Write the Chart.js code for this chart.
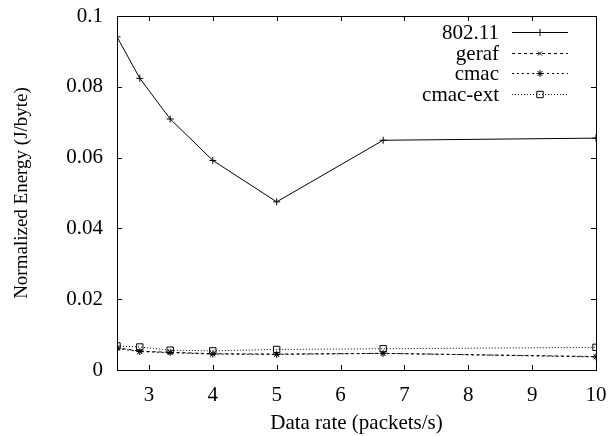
<!DOCTYPE html>
<html>
<head>
<meta charset="utf-8">
<script src="https://cdn.jsdelivr.net/npm/chart.js@4.4.1/dist/chart.umd.min.js"></script>
<style>
  html, body { margin: 0; padding: 0; background: #fff; }
  #wrap { width: 610px; height: 436px; }
</style>
</head>
<body>
<div id="wrap"><canvas id="grafico"></canvas></div>
<script>
// data rate (packets/s)
const rate = [2.5, 2.857, 3.333, 4, 5, 6.667, 10];
// normalized energy (J/byte)
const e80211  = [0.0941, 0.0824, 0.0709, 0.0592, 0.0475, 0.0649, 0.0655];
const geraf   = [0.0063, 0.0053, 0.0050, 0.0046, 0.0045, 0.0047, 0.0038];
const cmac    = [0.0061, 0.0052, 0.0049, 0.0045, 0.0044, 0.0047, 0.0037];
const cmacExt = [0.0068, 0.0065, 0.0056, 0.0054, 0.0058, 0.0060, 0.0064];

const xTicks = [3, 4, 5, 6, 7, 8, 9, 10];
const yTicks = [0, 0.02, 0.04, 0.06, 0.08, 0.1];

const punti = (vals) => rate.map((x, i) => ({ x: x, y: vals[i] }));

const FONT = "'Liberation Serif', 'Times New Roman', serif";
Chart.defaults.font.family = FONT;
Chart.defaults.font.size = 21;
Chart.defaults.color = '#000';

// box round the plot + ticks pointing inwards on all four sides
const cornice = {
  id: 'cornice',
  afterDraw(chart) {
    const { ctx, chartArea: a, scales } = chart;
    ctx.save();
    ctx.strokeStyle = '#000';
    ctx.lineWidth = 1;
    ctx.setLineDash([]);
    ctx.strokeRect(a.left + 0.5, a.top + 0.5, a.right - a.left, a.bottom - a.top);
    const len = 5;
    ctx.beginPath();
    xTicks.forEach(v => {
      const px = Math.round(scales.x.getPixelForValue(v)) + 0.5;
      ctx.moveTo(px, a.bottom); ctx.lineTo(px, a.bottom - len);
      ctx.moveTo(px, a.top); ctx.lineTo(px, a.top + len);
    });
    yTicks.forEach(v => {
      const py = Math.round(scales.y.getPixelForValue(v)) + 0.5;
      ctx.moveTo(a.left, py); ctx.lineTo(a.left + len, py);
      ctx.moveTo(a.right, py); ctx.lineTo(a.right - len, py);
    });
    ctx.stroke();
    ctx.restore();
  }
};

// key in the top right corner: label right aligned, line sample after it
const legenda = {
  id: 'legenda',
  afterDraw(chart) {
    const { ctx, chartArea: a } = chart;
    const xTesto = a.right - 97;
    const x0 = a.right - 84, x1 = a.right - 28;
    ctx.save();
    ctx.font = '21px ' + FONT;
    ctx.textAlign = 'right';
    ctx.textBaseline = 'middle';
    chart.data.datasets.forEach((ds, i) => {
      const y = Math.round(a.top + 16 + i * 20.7) + 0.5;
      ctx.fillStyle = '#000';
      ctx.fillText(ds.label, xTesto, y + 1);
      ctx.strokeStyle = ds.borderColor;
      ctx.lineWidth = ds.borderWidth;
      ctx.setLineDash(ds.borderDash || []);
      ctx.beginPath();
      ctx.moveTo(x0, y);
      ctx.lineTo(x1, y);
      ctx.stroke();
      ctx.setLineDash([]);
      ctx.fillStyle = 'rgba(0,0,0,0)';
      Chart.helpers.drawPoint(ctx, {
        pointStyle: ds.pointStyle,
        radius: ds.pointRadius,
        borderWidth: 1
      }, (x0 + x1) / 2, y);
    });
    ctx.restore();
  }
};

const serie = (label, vals, dash, stile, r) => ({
  label: label,
  data: punti(vals),
  borderColor: '#000',
  borderWidth: 1,
  borderDash: dash,
  pointStyle: stile,
  pointRadius: r,
  pointBorderColor: '#000',
  pointBackgroundColor: 'rgba(0,0,0,0)',
  pointBorderWidth: 1,
  tension: 0,
  fill: false
});

new Chart('grafico', {
  type: 'line',
  data: {
    datasets: [
      serie('802.11', e80211, [], 'cross', 3.5),
      serie('geraf', geraf, [3, 3], 'crossRot', 3),
      serie('cmac', cmac, [2, 3], 'star', 3.5),
      serie('cmac-ext', cmacExt, [1, 2], 'rect', 4.5)
    ]
  },
  options: {
    responsive: true,
    maintainAspectRatio: false,
    animation: false,
    events: [],
    layout: { padding: { left: 0, right: 14, top: 16, bottom: 0 } },
    plugins: {
      legend: { display: false },
      tooltip: { enabled: false }
    },
    scales: {
      x: {
        type: 'linear',
        min: 2.5,
        max: 10,
        afterBuildTicks: (s) => { s.ticks = xTicks.map(v => ({ value: v })); },
        afterFit: (s) => { s.height = 66; s.paddingLeft = 0; s.paddingRight = 0; },
        grid: { display: false, drawTicks: false },
        border: { display: false },
        ticks: { padding: 13, maxRotation: 0, autoSkip: false },
        title: { display: true, text: 'Data rate (packets/s)', padding: { top: 2, bottom: 0 } }
      },
      y: {
        min: 0,
        max: 0.1,
        afterBuildTicks: (s) => { s.ticks = yTicks.map(v => ({ value: v })); },
        afterFit: (s) => { s.width = 117; s.paddingTop = 0; s.paddingBottom = 0; },
        grid: { display: false, drawTicks: false },
        border: { display: false },
        ticks: { padding: 14, callback: (v) => String(v) },
        title: {
          display: true,
          text: 'Normalized Energy (J/byte)',
          font: { size: 19 },
          padding: { top: 11, bottom: 0 }
        }
      }
    }
  },
  plugins: [cornice, legenda]
});
</script>
</body>
</html>
